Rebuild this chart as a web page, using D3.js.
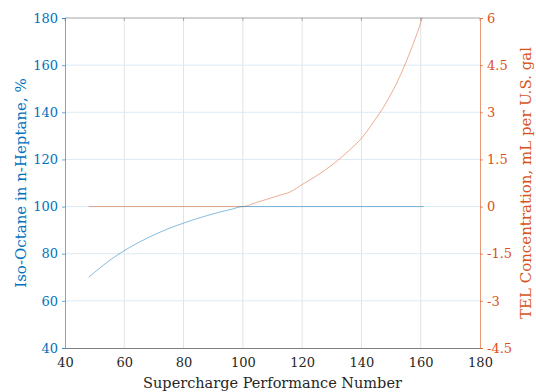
<!DOCTYPE html>
<html>
<head>
<meta charset="utf-8">
<script src="https://cdn.jsdelivr.net/npm/d3@7"></script>
<style>
  body { margin: 0; background: #fff; }
</style>
</head>
<body>
<div id="chart"></div>
<script>
// performance number (x)
const pnIso = [48, 52, 56, 60, 64, 68, 72, 76, 80, 84, 88, 92, 96, 100, 161];
// iso-octane percent (left axis)
const isoPct = [70, 74.2, 78, 81.3, 84.2, 86.8, 89.1, 91.2, 93, 94.7, 96.2, 97.6, 98.8, 100, 100];

const pnTel = [48, 100, 104, 108, 112, 116, 120, 124, 128, 132, 136, 140, 144, 148, 152, 156, 160, 161];
// TEL mL per US gal (right axis)
const telMl = [0, 0, 0.11, 0.23, 0.35, 0.47, 0.70, 0.93, 1.18, 1.47, 1.80, 2.17, 2.68, 3.25, 3.95, 4.82, 5.85, 6.15];

const xTicks = [40, 60, 80, 100, 120, 140, 160, 180];
const leftTicks = [40, 60, 80, 100, 120, 140, 160, 180];
const rightTicks = [-4.5, -3, -1.5, 0, 1.5, 3, 4.5, 6];
const rightLabels = ["-4.5", "-3", "-1.5", "0", "1.5", "3", "4.5", "6"];

const W = 536, H = 392;
const L = 65, R = 480, T = 18, B = 348;
const blue = "#0072BD", orange = "#D95319";
const font = "DejaVu Serif";

const svg = d3.select("#chart").append("svg")
  .attr("width", W).attr("height", H)
  .style("font-family", font);

const x = d3.scaleLinear().domain([40, 180]).range([L, R]);
const yL = d3.scaleLinear().domain([40, 180]).range([B, T]);
const yR = d3.scaleLinear().domain([-4.5, 6]).range([B, T]);

// grid
svg.append("g").selectAll("line").data(xTicks.slice(1, -1)).join("line")
  .attr("x1", d => x(d)).attr("x2", d => x(d))
  .attr("y1", T).attr("y2", B)
  .attr("stroke", "#e3e3e3").attr("stroke-width", 1);
svg.append("g").selectAll("line").data(leftTicks.slice(1, -1)).join("line")
  .attr("x1", L).attr("x2", R)
  .attr("y1", d => yL(d)).attr("y2", d => yL(d))
  .attr("stroke", "#dceaf5").attr("stroke-width", 1);

svg.append("defs").append("clipPath").attr("id", "clip")
  .append("rect").attr("x", L).attr("y", T).attr("width", R - L).attr("height", B - T);

// lines
const lineIso = d3.line().x((d, i) => x(pnIso[i])).y(d => yL(d)).curve(d3.curveMonotoneX);
const lineTel = d3.line().x((d, i) => x(pnTel[i])).y(d => yR(d)).curve(d3.curveMonotoneX);

svg.append("path").datum(telMl).attr("d", lineTel)
  .attr("clip-path", "url(#clip)")
  .attr("fill", "none").attr("stroke", orange).attr("stroke-width", 0.6).attr("stroke-opacity", 0.8);
svg.append("path").datum(isoPct).attr("d", lineIso)
  .attr("fill", "none").attr("stroke", blue).attr("stroke-width", 0.6).attr("stroke-opacity", 0.8);

// x axis (bottom) and top box line
const xAxis = svg.append("g").attr("transform", `translate(0,${B})`)
  .call(d3.axisBottom(x).tickValues(xTicks).tickSize(0).tickPadding(10));
xAxis.attr("font-family", font);
xAxis.select(".domain").attr("stroke", "#262626").attr("stroke-width", 0.6);
xAxis.selectAll("text").attr("font-size", 13).attr("fill", "#262626");
svg.append("line").attr("x1", L).attr("x2", R).attr("y1", T).attr("y2", T)
  .attr("stroke", "#262626").attr("stroke-width", 0.6).attr("stroke-opacity", 0.7);
svg.append("g").selectAll("line").data(xTicks).join("line")
  .attr("x1", d => x(d)).attr("x2", d => x(d))
  .attr("y1", T).attr("y2", T + 3)
  .attr("stroke", "#262626").attr("stroke-width", 0.6).attr("stroke-opacity", 0.5);

// left axis
const leftAxis = svg.append("g").attr("transform", `translate(${L},0)`)
  .call(d3.axisLeft(yL).tickValues(leftTicks).tickSize(3).tickPadding(4));
leftAxis.attr("font-family", font);
leftAxis.selectAll(".domain, .tick line").attr("stroke", blue).attr("stroke-width", 0.6);
leftAxis.selectAll("text").attr("font-size", 13).attr("fill", blue);

// right axis
const rightAxis = svg.append("g").attr("transform", `translate(${R},0)`)
  .call(d3.axisRight(yR).tickValues(rightTicks).tickFormat((d, i) => rightLabels[i])
    .tickSize(3).tickPadding(4));
rightAxis.attr("font-family", font);
rightAxis.selectAll(".domain, .tick line").attr("stroke", orange).attr("stroke-width", 0.6);
rightAxis.selectAll("text").attr("font-size", 13).attr("fill", orange);

// axis labels
svg.append("text")
  .attr("x", (L + R) / 2).attr("y", 388)
  .attr("text-anchor", "middle").attr("font-size", 14.5).attr("fill", "#262626")
  .text("Supercharge Performance Number");

svg.append("text")
  .attr("transform", `translate(26,${(T + B) / 2}) rotate(-90)`)
  .attr("text-anchor", "middle").attr("font-size", 15).attr("fill", blue)
  .text("Iso-Octane in n-Heptane, %");

svg.append("text")
  .attr("transform", `translate(531,${(T + B) / 2}) rotate(-90)`)
  .attr("text-anchor", "middle").attr("font-size", 15).attr("fill", orange)
  .text("TEL Concentration, mL per U.S. gal");
</script>
</body>
</html>
